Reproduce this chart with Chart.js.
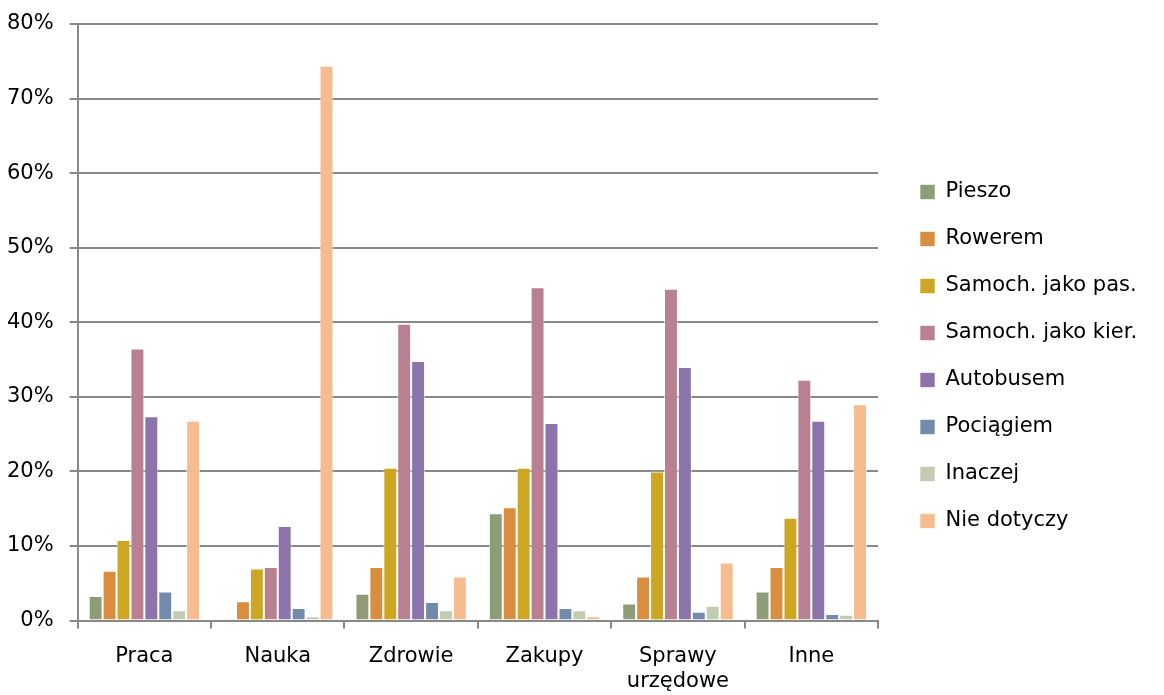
<!DOCTYPE html>
<html>
<head>
<meta charset="utf-8">
<script src="https://cdn.jsdelivr.net/npm/chart.js@4/dist/chart.umd.min.js"></script>
<style>
    html, body { margin: 0; padding: 0; background: #fff; }
    #wrap { width: 1164px; height: 695px; }
</style>
</head>
<body>
<div id="wrap"><canvas id="chartTravel" width="1164" height="695"></canvas></div>
<script>
// categories (x axis)
const categories = ["Praca", "Nauka", "Zdrowie", "Zakupy", ["Sprawy", "urzędowe"], "Inne"];

// series values, in %
const pieszo      = [3.3, 0.2, 3.6, 14.4, 2.3, 3.9];
const rowerem     = [6.7, 2.6, 7.2, 15.2, 5.9, 7.2];
const samochPas   = [10.8, 7.0, 20.5, 20.5, 20.0, 13.8];
const samochKier  = [36.5, 7.2, 39.8, 44.7, 44.5, 32.3];
const autobusem   = [27.4, 12.7, 34.8, 26.5, 34.0, 26.8];
const pociagiem   = [3.9, 1.7, 2.5, 1.7, 1.2, 0.9];
const inaczej     = [1.4, 0.6, 1.4, 1.4, 2.0, 0.8];
const nieDotyczy  = [26.8, 74.4, 5.9, 0.6, 7.8, 29.0];

const seriesNames = ["Pieszo", "Rowerem", "Samoch. jako pas.", "Samoch. jako kier.",
    "Autobusem", "Pociągiem", "Inaczej", "Nie dotyczy"];
const seriesData = [pieszo, rowerem, samochPas, samochKier, autobusem, pociagiem, inaczej, nieDotyczy];
const colors = ["#8F9C78", "#D98E3F", "#CDA723", "#B88090", "#8A74AA", "#728BAA", "#C3CBB3", "#F6BC8F"];

// y ticks
const yMax = 80;
const yStep = 10;

const FONT = "'DejaVu Sans', Verdana, sans-serif";
const FONT_SIZE = 21;

// fixed legend width, shifted right (gap after the plot) and up a little
const legendGap = {
    id: "legendGap",
    beforeInit(chart) {
        const fit = chart.legend.fit;
        chart.legend.fit = function () {
            fit.call(this);
            this.width = 284;
        };
    },
    afterLayout(chart) {
        chart.legend.left += 16;
        chart.legend.right += 16;
        chart.legend.top -= 10;
        chart.legend.bottom -= 10;
    }
};

document.addEventListener("DOMContentLoaded", () => {
    const ctx = document.getElementById("chartTravel");
    if (!ctx) return;

    new Chart(ctx, {
        type: "bar",
        data: {
            labels: categories,
            datasets: seriesNames.map((name, i) => ({
                label: name,
                data: seriesData[i],
                backgroundColor: colors[i],
                borderColor: "rgba(255,255,255,0.6)",
                borderWidth: 1,
                categoryPercentage: 0.835,
                barPercentage: 1.0
            }))
        },
        options: {
            responsive: false,
            animation: false,
            layout: { padding: { top: 24, right: 2, left: -9, bottom: -14 } },
            plugins: {
                tooltip: { enabled: false },
                legend: {
                    position: "right",
                    align: "center",
                    labels: {
                        boxWidth: 15,
                        boxHeight: 15,
                        padding: 26,
                        color: "#000",
                        font: { family: FONT, size: FONT_SIZE }
                    }
                }
            },
            scales: {
                x: {
                    grid: {
                        display: true,
                        drawOnChartArea: false,
                        color: "#888",
                        lineWidth: 2,
                        tickLength: 8
                    },
                    border: { color: "#888", width: 2 },
                    ticks: {
                        color: "#000",
                        font: { family: FONT, size: FONT_SIZE },
                        maxRotation: 0,
                        padding: 15
                    }
                },
                y: {
                    min: 0,
                    max: yMax,
                    afterFit(axis) {
                        // tick padding is added on top too; drop that
                        axis.paddingTop = 0;
                    },
                    grid: {
                        color: "#888",
                        lineWidth: 2,
                        tickLength: 8
                    },
                    border: { color: "#888", width: 2 },
                    ticks: {
                        stepSize: yStep,
                        color: "#000",
                        font: { family: FONT, size: FONT_SIZE },
                        padding: 16,
                        callback: v => v + "%"
                    }
                }
            }
        },
        plugins: [legendGap]
    });
});
</script>
</body>
</html>
